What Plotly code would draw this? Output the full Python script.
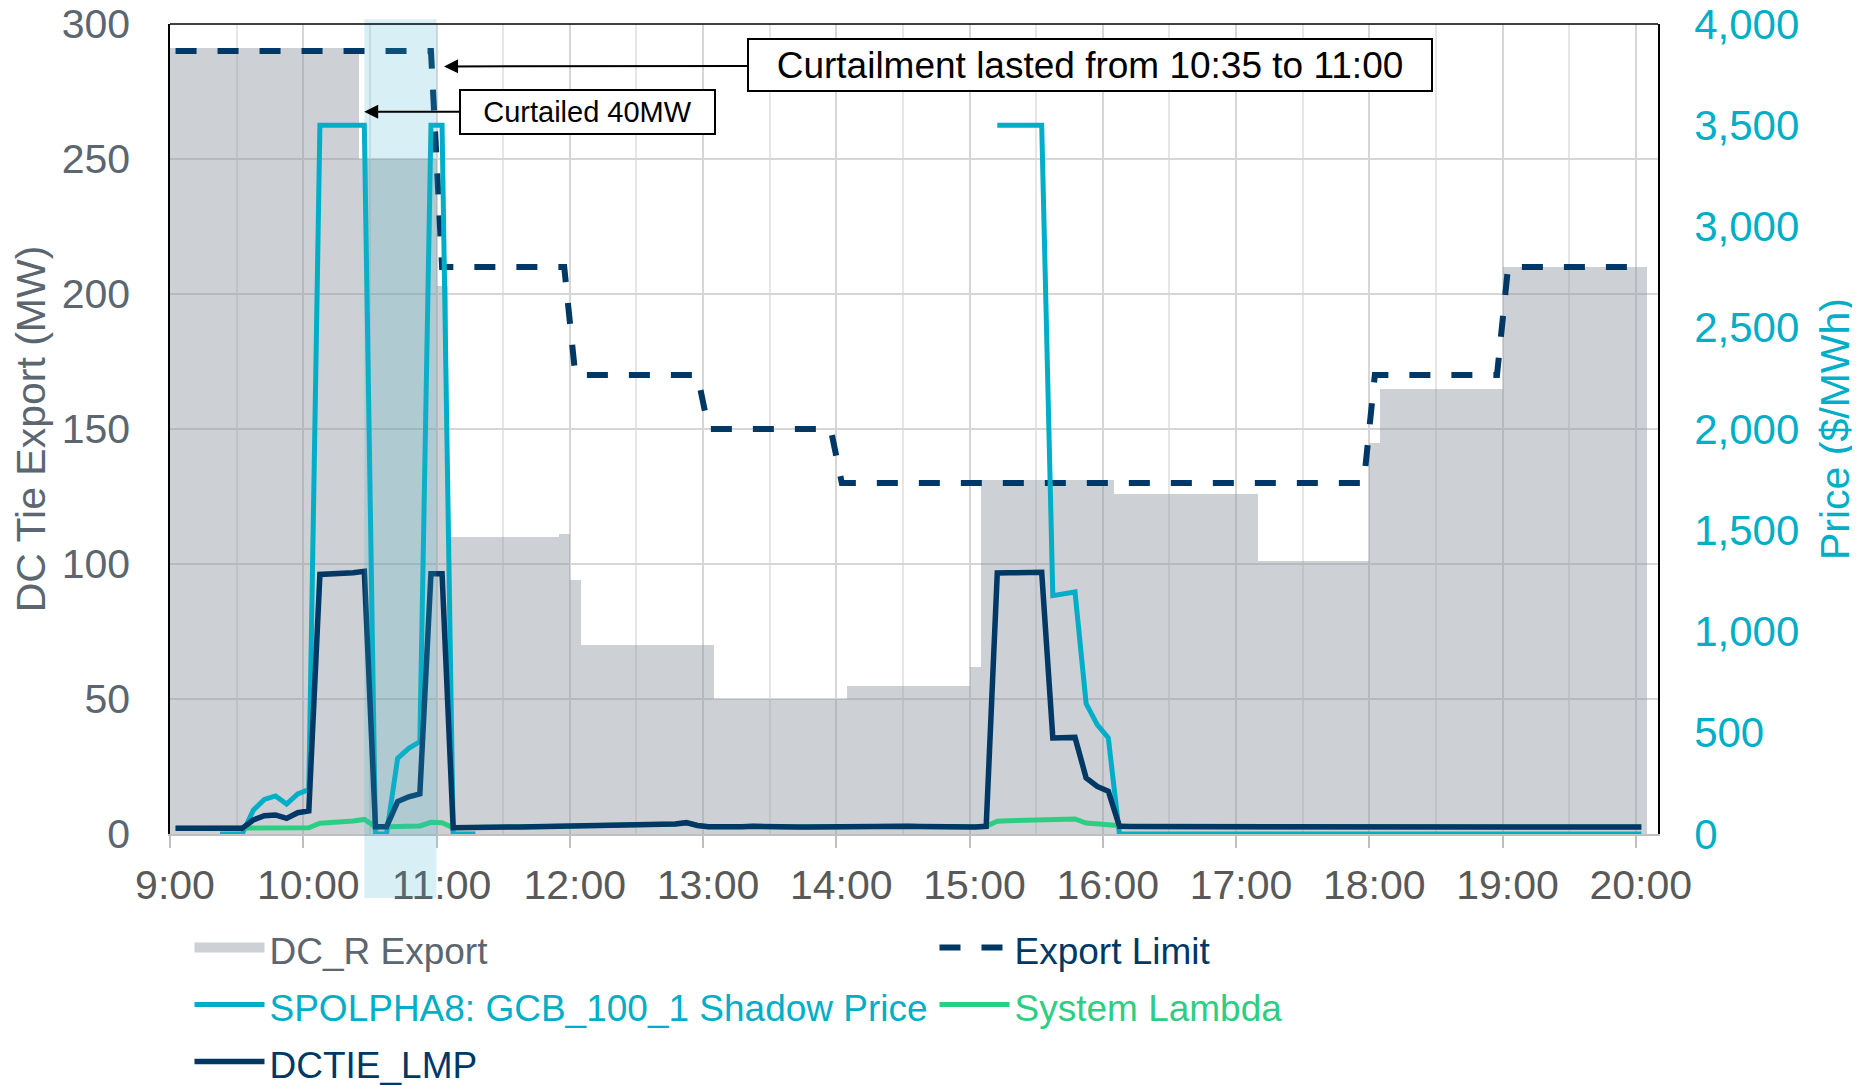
import pandas as pd
import plotly.graph_objects as go

DAY = "2021-02-15"
# 5-minute intervals 9:00 ... 20:00 (interval start); values plotted at interval centres
BIN_START = pd.date_range(f"{DAY} 09:00", f"{DAY} 20:00", freq="5min")
BIN_MID = [(t + pd.Timedelta(seconds=150)).strftime("%Y-%m-%d %H:%M:%S") for t in BIN_START]

# DC_R Export (MW), one row per hour (12 five-minute intervals)
EXPORT_MW = [
    291, 291, 291, 291, 291, 291, 291, 291, 291, 291, 291, 291,   # 9
    291, 291, 291, 291, 291, 250, 250, 250, 250, 250, 250, 250,   # 10
    203, 110, 110, 110, 110, 110, 110, 110, 110, 110, 110, 111,   # 11
    94, 70, 70, 70, 70, 70, 70, 70, 70, 70, 70, 70,               # 12
    70, 50, 50, 50, 50, 50, 50, 50, 50, 50, 50, 50,               # 13
    50, 55, 55, 55, 55, 55, 55, 55, 55, 55, 55, 55,               # 14
    62, 131, 131, 131, 131, 131, 131, 131, 131, 131, 131, 131,    # 15
    131, 126, 126, 126, 126, 126, 126, 126, 126, 126, 126, 126,   # 16
    126, 126, 101, 101, 101, 101, 101, 101, 101, 101, 101, 101,   # 17
    145, 165, 165, 165, 165, 165, 165, 165, 165, 165, 165, 165,   # 18
    210, 210, 210, 210, 210, 210, 210, 210, 210, 210, 210, 210,   # 19
    210,                                                          # 20
]

# Export Limit (MW)
LIMIT_MW = [
    290, 290, 290, 290, 290, 290, 290, 290, 290, 290, 290, 290,   # 9
    290, 290, 290, 290, 290, 290, 290, 290, 290, 290, 290, 290,   # 10
    210, 210, 210, 210, 210, 210, 210, 210, 210, 210, 210, 210,   # 11
    170, 170, 170, 170, 170, 170, 170, 170, 170, 170, 170, 170,   # 12
    150, 150, 150, 150, 150, 150, 150, 150, 150, 150, 150, 150,   # 13
    130, 130, 130, 130, 130, 130, 130, 130, 130, 130, 130, 130,   # 14
    130, 130, 130, 130, 130, 130, 130, 130, 130, 130, 130, 130,   # 15
    130, 130, 130, 130, 130, 130, 130, 130, 130, 130, 130, 130,   # 16
    130, 130, 130, 130, 130, 130, 130, 130, 130, 130, 130, 130,   # 17
    170, 170, 170, 170, 170, 170, 170, 170, 170, 170, 170, 170,   # 18
    210, 210, 210, 210, 210, 210, 210, 210, 210, 210, 210, 210,   # 19
    210,                                                          # 20
]

N = None
# SPOLPHA8: GCB_100_1 Shadow Price ($/MWh)
SHADOW_PRICE = [
    N, N, N, N, 0, 0, 0, 118, 171, 188, 148, 198,                 # 9
    220, 3500, 3500, 3500, 3500, 3500, 0, 0, 374, 423, 456, 3500, # 10
    3500, 0, 0, 0, N, N, N, N, N, N, N, N,                        # 11
    N, N, N, N, N, N, N, N, N, N, N, N,                           # 12
    N, N, N, N, N, N, N, N, N, N, N, N,                           # 13
    N, N, N, N, N, N, N, N, N, N, N, N,                           # 14
    N, N, 3500, 3500, 3500, 3500, 3500, 1177, 1186, 1195, 644, 540,  # 15
    474, 0, 0, 0, 0, 0, 0, 0, 0, 0, 0, 0,                         # 16
    0, 0, 0, 0, 0, 0, 0, 0, 0, 0, 0, 0,                           # 17
    0, 0, 0, 0, 0, 0, 0, 0, 0, 0, 0, 0,                           # 18
    0, 0, 0, 0, 0, 0, 0, 0, 0, 0, 0, 0,                           # 19
    0,                                                            # 20
]

# System Lambda ($/MWh)
SYSTEM_LAMBDA = [
    28, 28, 28, 28, 28, 28, 28, 31, 31, 31, 31, 31,               # 9
    31, 53, 56, 59, 64, 72, 36, 36, 36, 36, 40, 58,               # 10
    56, 31, 33, 34, 34, 35, 35, 35, 36, 36, 37, 37,               # 11
    37, 37, 38, 39, 40, 41, 42, 44, 46, 49, 55, 42,               # 12
    36, 34, 34, 36, 38, 36, 35, 35, 35, 35, 36, 37,               # 13
    37, 37, 37, 38, 38, 38, 38, 37, 36, 36, 35, 35,               # 14
    35, 38, 63, 66, 67, 68, 69, 72, 74, 74, 54, 50,               # 15
    46, 38, 37, 37, 36, 36, 36, 36, 36, 35, 35, 35,               # 16
    34, 34, 34, 34, 34, 33, 33, 33, 33, 33, 33, 33,               # 17
    33, 33, 33, 33, 32, 32, 32, 32, 32, 32, 32, 32,               # 18
    32, 32, 32, 32, 32, 32, 32, 32, 32, 32, 33, 34,               # 19
    34,                                                           # 20
]

# DCTIE_LMP ($/MWh)
DCTIE_LMP = [
    28, 28, 28, 28, 28, 28, 28, 69, 90, 94, 77, 105,              # 9
    114, 1282, 1284, 1286, 1290, 1297, 36, 36, 160, 184, 198, 1285,  # 10
    1285, 31, 33, 34, 34, 35, 35, 35, 36, 36, 37, 37,             # 11
    37, 37, 38, 39, 40, 41, 42, 44, 46, 50, 56, 42,               # 12
    36, 34, 34, 36, 38, 36, 35, 35, 35, 35, 36, 37,               # 13
    37, 37, 37, 38, 38, 38, 38, 37, 36, 36, 35, 35,               # 14
    35, 38, 1289, 1290, 1292, 1292, 1292, 474, 475, 477, 277, 235,  # 15
    211, 38, 37, 37, 36, 36, 36, 36, 36, 35, 35, 35,              # 16
    34, 34, 34, 34, 34, 33, 33, 33, 33, 33, 33, 33,               # 17
    33, 33, 33, 33, 32, 32, 32, 32, 32, 32, 32, 32,               # 18
    32, 32, 32, 32, 32, 32, 32, 32, 32, 32, 33, 34,               # 19
    34,                                                           # 20
]

Y_LEFT_TICKS = [0, 50, 100, 150, 200, 250, 300]
Y_RIGHT_TICKS = [0, 500, 1000, 1500, 2000, 2500, 3000, 3500, 4000]

CURTAIL_START = f"{DAY} 10:27:30"
CURTAIL_END = f"{DAY} 11:00:00"

FONT = "Arial, Liberation Sans, sans-serif"
GRAY_FILL = "rgba(144,151,159,0.45)"
GRAY_LEG = "#CDD0D4"
SLATE = "#5B6670"
NAVY = "#003865"
CYAN = "#00AEC7"
GREEN = "#2DCE82"


def leg(text, color):
    return f'<span style="font-size:37px;color:{color}">{text}</span>'


fig = go.Figure()

fig.add_trace(go.Bar(
    x=BIN_MID, y=EXPORT_MW, width=300000, marker=dict(color=GRAY_FILL, line=dict(width=0)),
    name="DC_R Export", legendgroup="exp", showlegend=False, yaxis="y",
))
fig.add_trace(go.Scatter(
    x=[None], y=[None], mode="lines", line=dict(color=GRAY_LEG, width=19),
    name=leg("DC_R Export", SLATE), legendgroup="exp", legendrank=1, yaxis="y",
))
fig.add_trace(go.Scatter(
    x=BIN_MID, y=LIMIT_MW, mode="lines", line=dict(color=NAVY, width=6, dash="21px,21px"),
    name=leg("Export Limit", NAVY), legendrank=2, yaxis="y",
))
fig.add_trace(go.Scatter(
    x=BIN_MID, y=SHADOW_PRICE, mode="lines", line=dict(color=CYAN, width=5),
    connectgaps=False, name=leg("SPOLPHA8: GCB_100_1 Shadow Price", CYAN), legendrank=3, yaxis="y2",
))
fig.add_trace(go.Scatter(
    x=BIN_MID, y=SYSTEM_LAMBDA, mode="lines", line=dict(color=GREEN, width=5),
    name=leg("System Lambda", GREEN), legendrank=4, yaxis="y2",
))
fig.add_trace(go.Scatter(
    x=BIN_MID, y=DCTIE_LMP, mode="lines", line=dict(color=NAVY, width=5.5),
    name=leg("DCTIE_LMP", NAVY), legendrank=5, yaxis="y2",
))

fig.update_layout(
    width=1860, height=1085, template="none",
    margin=dict(l=162, r=210, t=16, b=259, autoexpand=False),
    paper_bgcolor="white", plot_bgcolor="white",
    bargap=0, barmode="overlay",
    font=dict(family=FONT, size=41, color="#595959"),
    xaxis=dict(
        type="date", range=[f"{DAY} 09:00", f"{DAY} 20:10"],
        tickformat="%-H:%M", tick0=f"{DAY} 09:00", dtick=3600000,
        showgrid=True, gridcolor="#D6D6D6", gridwidth=1.5,
        minor=dict(dtick=1800000, showgrid=True, gridcolor="#E6E6E6", gridwidth=1.5),
        ticks="outside", ticklen=12, tickcolor="#BFBFBF", tickwidth=1.5,
        showline=True, linecolor="#BFBFBF", linewidth=2, zeroline=False,
        tickfont=dict(family=FONT, size=41, color="#595959"),
        ticklabelstandoff=2, ticklabelshift=5, ticklabeloverflow="allow", automargin=False,
    ),
    yaxis=dict(
        range=[0, 300], tickvals=Y_LEFT_TICKS,
        showgrid=True, gridcolor="#D6D6D6", gridwidth=1.5,
        showline=True, linecolor="black", linewidth=1.5, zeroline=False,
        ticks="", tickfont=dict(family=FONT, size=41, color=SLATE), ticklabelstandoff=30,
        ticklabeloverflow="allow",
        title=dict(text="DC Tie Export (MW)", font=dict(family=FONT, size=41, color=SLATE), standoff=14),
        automargin=False,
    ),
    yaxis2=dict(
        overlaying="y", side="right", range=[0, 4000], tickvals=Y_RIGHT_TICKS, tickformat=",",
        showgrid=False, showline=True, linecolor="black", linewidth=1.5, zeroline=False,
        ticks="", tickfont=dict(family=FONT, size=42, color=CYAN), ticklabelstandoff=26,
        ticklabeloverflow="allow",
        title=dict(text="Price ($/MWh)", font=dict(family=FONT, size=41, color=CYAN), standoff=22),
        automargin=False,
    ),
    legend=dict(
        orientation="h", x=0.0131, xanchor="left", y=-0.0988, yanchor="top",
        font=dict(family=FONT, size=41.5, color=NAVY),
        itemwidth=70, entrywidth=660, entrywidthmode="pixels",
        bgcolor="rgba(0,0,0,0)", traceorder="normal",
    ),
    shapes=[
        dict(type="rect", xref="x", yref="paper", x0=CURTAIL_START, x1=CURTAIL_END,
             y0=-0.079, y1=1.006, fillcolor="rgba(60,180,205,0.2)", line=dict(width=0), layer="above"),
        dict(type="line", xref="paper", yref="paper", x0=0, x1=1, y0=1, y1=1,
             line=dict(color="black", width=1.5), layer="above"),
    ],
    annotations=[
        dict(x=f"{DAY} 11:03:24", y=284.3, xref="x", yref="y", ax=646, ay=-1,
             text="Curtailment lasted from 10:35 to 11:00", showarrow=True,
             arrowhead=2, arrowsize=1.4, arrowwidth=2, arrowcolor="black",
             font=dict(family=FONT, size=37, color="black"), bgcolor="white",
             bordercolor="black", borderwidth=2, borderpad=1, width=680, height=48),
        dict(x=f"{DAY} 10:27:26", y=267.5, xref="x", yref="y", ax=223, ay=0,
             text="Curtailed 40MW", showarrow=True,
             arrowhead=2, arrowsize=1.4, arrowwidth=2, arrowcolor="black",
             font=dict(family=FONT, size=29, color="black"), bgcolor="white",
             bordercolor="black", borderwidth=2, borderpad=1, width=251, height=40),
    ],
)

fig.write_html("out.html")
